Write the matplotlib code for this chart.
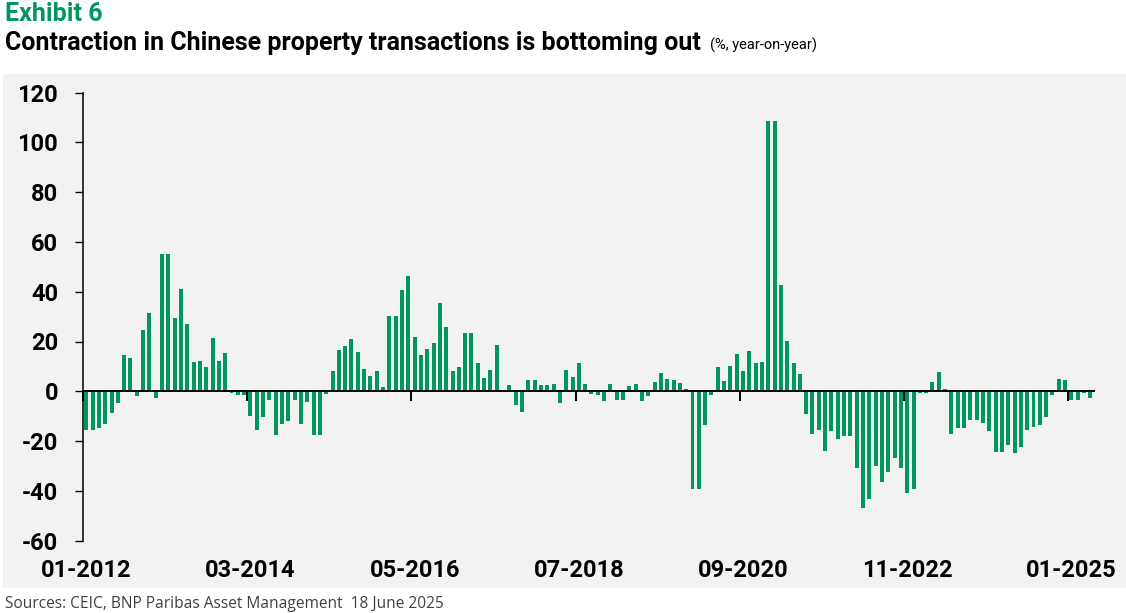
import matplotlib
matplotlib.use('Agg')
from matplotlib import pyplot as plt
from matplotlib.patches import Rectangle
import numpy as np

plt.rcParams['axes.unicode_minus'] = False

# monthly y/y change in property transactions, Jan 2012 - Apr 2025
values_2012 = [-15.6, -15.6, -14.8, -13.2, -8.9, -4.5, 14.4, 13.2, -1.7, 24.8, 31.5, -2.5]
values_2013 = [55.2, 55.2, 29.5, 41.1, 27.2, 11.7, 12.1, 9.7, 21.6, 12.1, 15.2, -0.7]
values_2014 = [-1.5, -1.5, -10.1, -15.7, -10.5, -3.3, -17.6, -13.2, -12.1, -3.3, -13.2, -4.1]
values_2015 = [-17.6, -17.6, -0.9, 8.1, 16.4, 18.0, 21.2, 15.6, 8.9, 6.1, 8.1, 1.7]
values_2016 = [30.3, 30.3, 40.6, 46.3, 22.0, 14.4, 16.8, 19.2, 35.3, 26.0, 8.1, 9.7]
values_2017 = [23.6, 23.6, 11.3, 5.3, 8.5, 18.4, 0.5, 2.5, -5.7, -8.5, 4.5, 4.5]
values_2018 = [2.5, 2.5, 2.9, -4.6, 8.5, 5.7, 11.3, 2.9, -0.9, -1.3, -3.7, 2.9]
values_2019 = [-3.3, -3.3, 2.1, 2.9, -3.7, -1.8, 3.7, 7.3, 4.9, 4.5, 3.3, 0.9]
values_2020 = [-39.1, -39.1, -13.6, -1.3, 9.7, 4.1, 10.1, 14.8, 8.1, 16.0, 11.3, 11.7]
values_2021 = [108.6, 108.6, 42.8, 20.4, 11.3, 6.9, -9.3, -17.2, -15.6, -24.0, -16.0, -19.2]
values_2022 = [-18.0, -18.0, -30.7, -46.7, -43.1, -29.9, -36.3, -32.3, -26.8, -30.7, -40.7, -39.1]
values_2023 = [-0.5, -0.5, 3.7, 7.6, 0.9, -17.2, -14.8, -14.8, -11.7, -11.7, -12.8, -16.0]
values_2024 = [-24.4, -24.4, -21.6, -24.8, -22.4, -15.6, -14.4, -13.6, -10.5, -1.3, 4.9, 4.5]
values_2025 = [-3.3, -3.3, -0.5, -2.5]

tick_labels = ['01-2012', '03-2014', '05-2016', '07-2018', '09-2020', '11-2022', '01-2025']
tick_step = 26
y_ticks = [-60, -40, -20, 0, 20, 40, 60, 80, 100, 120]

GREEN = '#00965e'

values = (values_2012 + values_2013 + values_2014 + values_2015 + values_2016 + values_2017
          + values_2018 + values_2019 + values_2020 + values_2021 + values_2022 + values_2023
          + values_2024 + values_2025)
x = np.arange(len(values))

fig = plt.figure(figsize=(11.26, 6.13), dpi=100)
fig.patch.set_facecolor('white')

# grey panel behind the chart
fig.patches.append(Rectangle((3 / 1126, 1 - 588 / 613), 1123 / 1126, 514 / 613,
                             transform=fig.transFigure, facecolor='#f2f2f2',
                             edgecolor='none', zorder=-5))

ax = fig.add_axes([83.1 / 1126, 1 - 540.7 / 613, 1010.4 / 1126, 448.2 / 613])
ax.set_facecolor('none')
ax.bar(x, values, width=0.63, color=GREEN, zorder=2)

ax.set_xlim(-0.5, len(values) - 0.5)
ax.set_ylim(y_ticks[0], y_ticks[-1])

for s in ['top', 'right']:
    ax.spines[s].set_visible(False)
ax.spines['left'].set_linewidth(1.1)
ax.spines['bottom'].set_position(('data', 0))
ax.spines['bottom'].set_linewidth(1.4)
ax.spines['bottom'].set_zorder(3)

tick_font = dict(family='Roboto', weight='bold', size=17)

ax.set_yticks(y_ticks)
ax.set_yticklabels([str(v) for v in y_ticks], **tick_font)
ax.tick_params(axis='y', length=6, width=1.0, pad=12, colors='black')

label_pos = x[::tick_step]
ax.set_xticks(label_pos - 0.5)
ax.tick_params(axis='x', length=7, width=1.4, labelbottom=False)

sec = ax.secondary_xaxis('bottom')
sec.set_xticks(label_pos)
sec.set_xticklabels(tick_labels, **tick_font)
sec.tick_params(length=0, pad=13)
sec.spines['bottom'].set_visible(False)

fig.text(5 / 1126, 1 - 21 / 613, 'Exhibit 6', color=GREEN, fontsize=18,
         fontweight='bold', family='Roboto', va='baseline')
t = fig.text(5 / 1126, 1 - 50 / 613, 'Contraction in Chinese property transactions is bottoming out',
             color='black', fontsize=18, fontweight='bold', family='Roboto',
             va='baseline')
fig.canvas.draw()
bb = t.get_window_extent()
fig.text((bb.x1 + 9) / 1126, 1 - 50 / 613, '(%, year-on-year)', color='black', fontsize=10.5,
         family='Roboto', va='baseline')

fig.text(5 / 1126, 1 - 608 / 613, 'Sources: CEIC, BNP Paribas Asset Management  18 June 2025',
         color='#404040', fontsize=11.2, family='Open Sans', va='baseline')

fig.savefig('out.png', dpi=100)
